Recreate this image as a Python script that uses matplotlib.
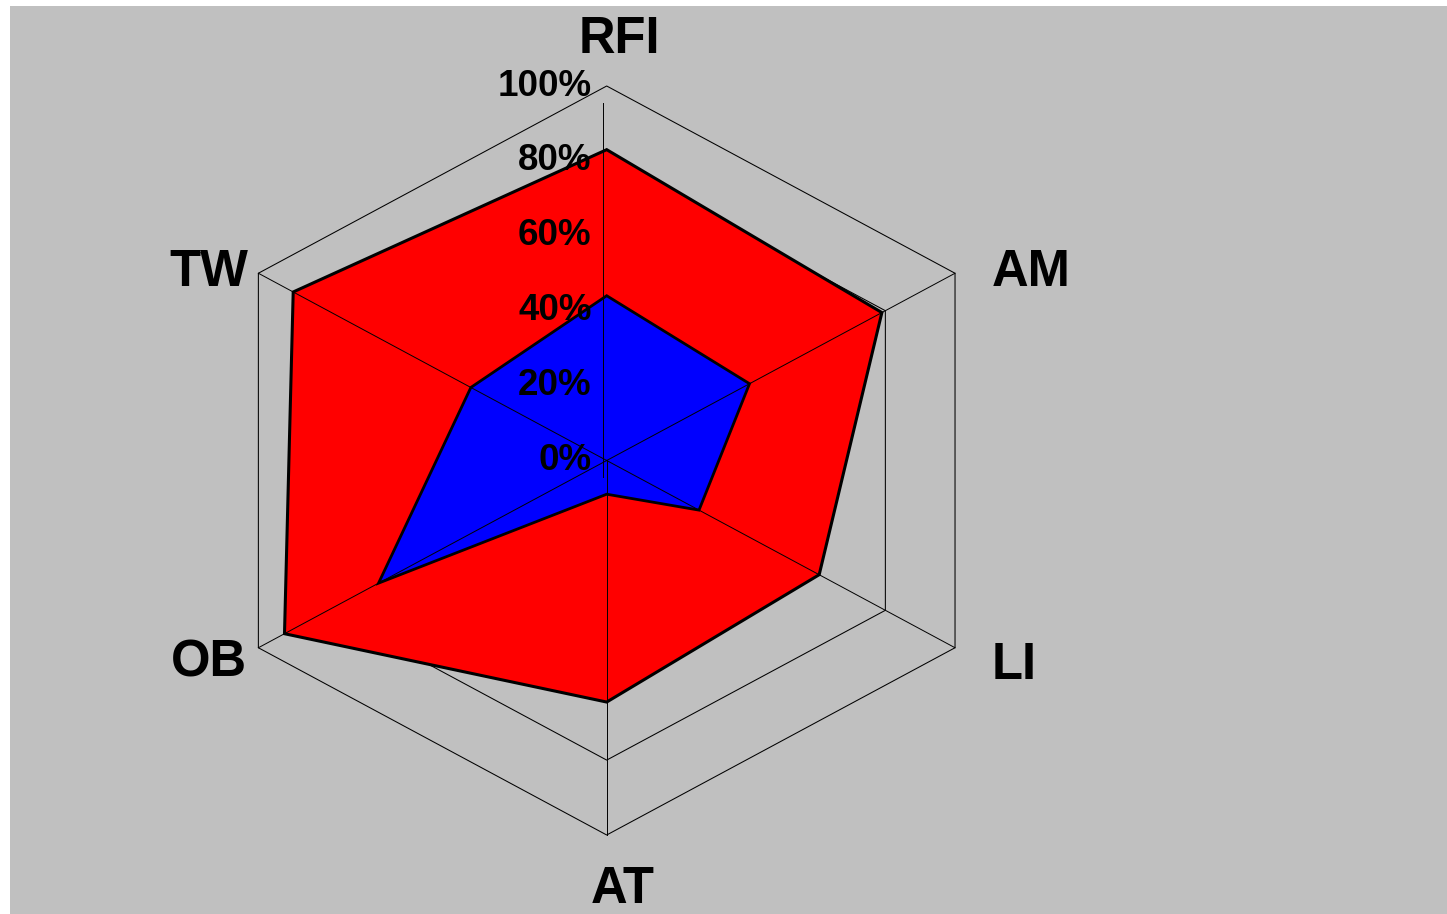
import numpy as np
import matplotlib
matplotlib.use('Agg')
import matplotlib.pyplot as plt
from matplotlib.patches import Polygon, Rectangle
import matplotlib.transforms as mtransforms

# 数据
categories = ['RFI', 'AM', 'LI', 'AT', 'OB', 'TW']
red_values = [83, 79, 61, 64.5, 92.5, 90]
blue_values = [44, 41, 26.5, 9, 65.5, 39]
tick_values = [0, 20, 40, 60, 80, 100]
tick_labels = ['0%', '20%', '40%', '60%', '80%', '100%']

plt.rcParams['font.family'] = ['Liberation Sans', 'DejaVu Sans']

W, H = 1447, 914
fig = plt.figure(figsize=(W / 100, H / 100), dpi=100)
fig.patch.set_facecolor('white')
fig.patches.append(Rectangle((10 / W, 0), 1 - 10 / W, (H - 6) / H,
                             transform=fig.transFigure, facecolor='#C0C0C0',
                             edgecolor='none', zorder=-5))

ax = fig.add_axes([0, 0, 1, 1])
ax.set_axis_off()
ax.set_zorder(1)
cx, cy, R = 606.7, 460.5, 374.5   # 中心和半径(像素)
ax.set_xlim(-cx / R, (W - cx) / R)
ax.set_ylim(-(H - cy) / R, cy / R)
sx = 1.074  # 横向拉伸

n = len(categories)
theta = np.arange(n) * 2 * np.pi / n


def xy(vals):
    v = np.asarray(vals, dtype=float) / 100.0
    return np.column_stack([v * np.sin(theta) * sx, v * np.cos(theta)])


# 网格(在填充下面)
for t in tick_values[1:]:
    ax.add_patch(Polygon(xy([t] * n), closed=True, fill=False,
                         edgecolor='black', lw=0.75, zorder=1))

ax.add_patch(Polygon(xy(red_values), closed=True, facecolor='#FF0000',
                     edgecolor='black', lw=2.2, joinstyle='miter', zorder=2))
ax.add_patch(Polygon(xy(blue_values), closed=True, facecolor='#0000FF',
                     edgecolor='black', lw=2.0, joinstyle='miter', zorder=3))

# 轴线
outer = xy([100] * n)
for i in range(1, n):
    ax.plot([0, outer[i, 0]], [0, outer[i, 1]], color='black', lw=0.7, zorder=4)
shift = mtransforms.offset_copy(ax.transData, fig=fig, x=-4, y=0, units='dots')
ax.plot([0, 0], [-0.045, 0.955], color='black', lw=0.7, zorder=4, transform=shift)

# 刻度标签
for t, lab in zip(tick_values, tick_labels):
    ax.annotate(lab, xy=(0, t / 100.0), xytext=(-15, 0), textcoords='offset pixels',
                ha='right', va='center', fontsize=26.5, fontweight='bold', zorder=6)

# 类别标签
offsets = [(13, 33, 'center'), (37, -13, 'left'), (37, -31, 'left'),
           (16, -68, 'center'), (-11, -29, 'right'), (-10, -13, 'right')]
for i, lab in enumerate(categories):
    dx, dy, ha = offsets[i]
    ax.annotate(lab, xy=(outer[i, 0], outer[i, 1]), xytext=(dx, dy),
                textcoords='offset pixels', ha=ha, va='baseline',
                fontsize=36.5, fontweight='bold', zorder=6, annotation_clip=False)

fig.savefig('out.png', dpi=100, facecolor=fig.get_facecolor())
